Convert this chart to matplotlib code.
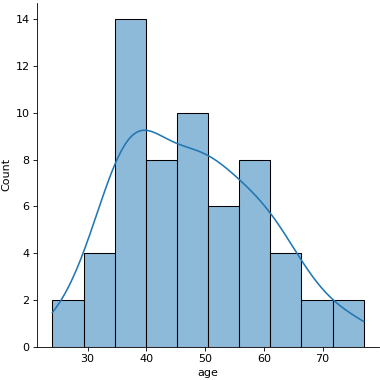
import pandas as pd
import seaborn as sns
import matplotlib
matplotlib.use("Agg")
import matplotlib.pyplot as plt

# Amžiaus duomenys (60 įrašų)
ages = [24, 28,
        31, 32, 33, 34,
        35, 35, 36, 36, 36, 37, 37, 37, 38, 38, 38, 39, 39, 39,
        40, 41, 41, 42, 43, 44, 45, 45,
        47, 47, 48, 48, 49, 49, 50, 50, 50, 50,
        51, 52, 53, 54, 55, 55,
        56, 57, 58, 59, 60, 60, 61, 61,
        62, 63, 64, 66,
        67, 70,
        74, 77]

df = pd.DataFrame({"age": ages})

plt.rcParams["font.size"] = 10.5
g = sns.displot(data=df, x="age", bins=10, kde=True, height=5, aspect=1)
g.figure.subplots_adjust(left=0.097, right=0.998, bottom=0.088, top=0.992)
g.figure.savefig("out.png", dpi=76)
